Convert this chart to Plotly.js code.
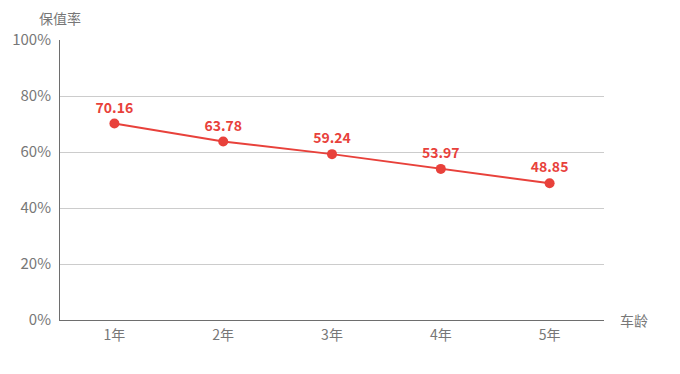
<!DOCTYPE html>
<html>
<head>
<meta charset="utf-8">
<script src="https://cdn.plot.ly/plotly-3.0.1.min.js"></script>
<style>html,body{margin:0;padding:0;background:#fff;}#chart{width:680px;height:374px;}</style>
</head>
<body>
<div id="chart"></div>
<script>
const categories = ["1年", "2年", "3年", "4年", "5年"];
const values = [70.16, 63.78, 59.24, 53.97, 48.85];
const yTickVals = [0, 20, 40, 60, 80, 100];
const yTickText = ["0%", "20%", "40%", "60%", "80%", "100%"];
const yAxisName = "保值率";
const xAxisName = "车龄";

const font = '"Noto Sans CJK SC", "Microsoft YaHei", sans-serif';
const red = "#e8413b";
const gray = "#777777";

const trace = {
  x: categories,
  y: values,
  type: "scatter",
  mode: "lines+markers+text",
  text: values.map(v => v.toFixed(2)),
  textposition: "top center",
  textfont: {family: font, size: 14, color: red, weight: "bold"},
  line: {color: red, width: 2},
  marker: {color: red, size: 10},
  cliponaxis: false,
  hoverinfo: "none"
};

const layout = {
  width: 680, height: 374,
  margin: {l: 60, r: 76, t: 40, b: 54},
  paper_bgcolor: "#fff", plot_bgcolor: "#fff",
  showlegend: false,
  font: {family: font, color: gray},
  xaxis: {
    type: "category",
    range: [-0.5, 4.5],
    showgrid: false, zeroline: false,
    showline: true, linecolor: "#6e6e6e", linewidth: 1,
    ticks: "", ticklen: 0,
    tickfont: {family: font, size: 14, color: gray},
    ticklabelstandoff: 2,
    fixedrange: true
  },
  yaxis: {
    range: [0, 100],
    tickvals: yTickVals, ticktext: yTickText,
    showgrid: true, gridcolor: "#cccccc", gridwidth: 1,
    zeroline: false,
    showline: true, linecolor: "#6e6e6e", linewidth: 1,
    ticks: "", ticklen: 0,
    tickfont: {family: font, size: 15, color: gray},
    ticklabelstandoff: 5,
    fixedrange: true
  },
  annotations: [
    {text: yAxisName, xref: "paper", yref: "paper", x: 0, y: 1, xshift: 0, yshift: 22,
     xanchor: "center", yanchor: "middle", showarrow: false,
     font: {family: font, size: 14, color: gray}},
    {text: xAxisName, xref: "paper", yref: "paper", x: 1, y: 0, xshift: 14,
     xanchor: "left", yanchor: "middle", showarrow: false,
     font: {family: font, size: 14, color: gray}}
  ]
};

Plotly.newPlot("chart", [trace], layout, {displayModeBar: false, staticPlot: true});
</script>
</body>
</html>
